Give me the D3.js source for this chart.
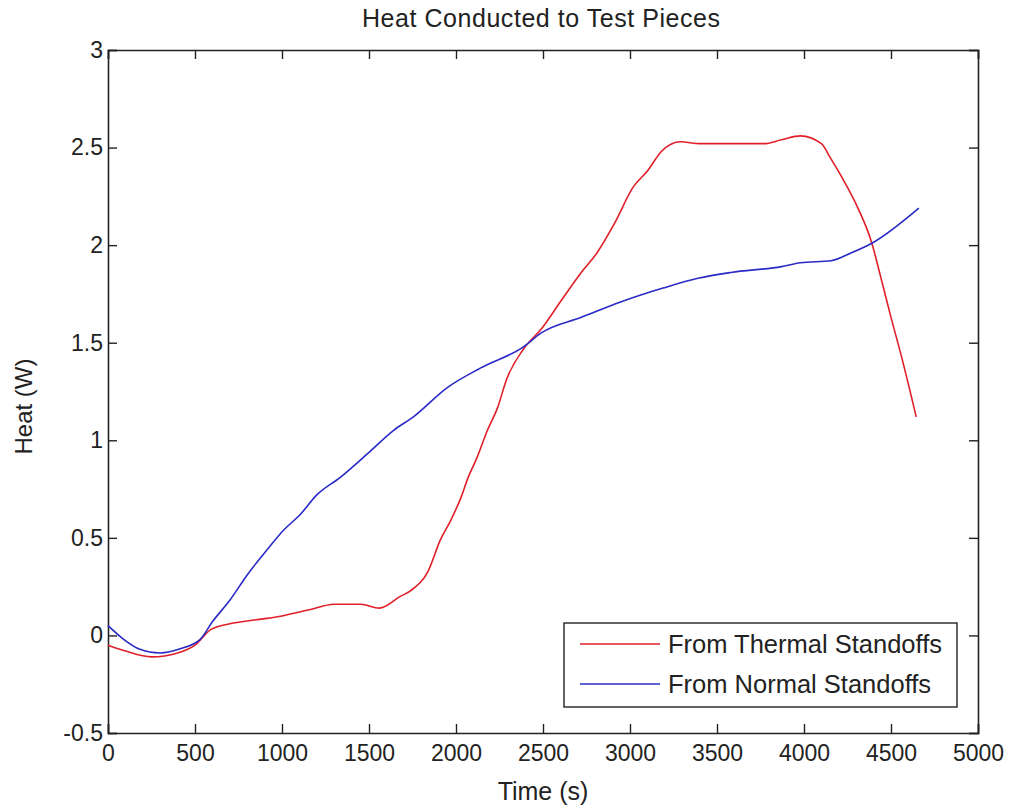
<!DOCTYPE html>
<html>
<head>
<meta charset="utf-8">
<script src="https://cdn.jsdelivr.net/npm/d3@7"></script>
<style>
    body { margin: 0; background: #fff; }
    text { font-family: "Liberation Sans", Arial, sans-serif; fill: #222; }
    .axis path, .axis line { stroke: #222; }
</style>
</head>
<body>
<div id="chart"></div>
<script>

// data
let xTicks = [0, 500, 1000, 1500, 2000, 2500, 3000, 3500, 4000, 4500, 5000];
let yTicks = [-0.5, 0, 0.5, 1, 1.5, 2, 2.5, 3];

let thermalTime = [0, 100, 250, 400, 500, 590, 700, 850, 1000, 1150, 1300, 1450, 1560, 1680, 1740, 1840, 1910, 1970, 2030, 2070, 2120, 2180, 2240, 2290, 2390, 2490, 2600, 2720, 2810, 2910, 3020, 3100, 3180, 3290, 3400, 3550, 3770, 3870, 3980, 4100, 4150, 4210, 4310, 4390, 4440, 4500, 4560, 4645];
let thermalHeat = [-0.05, -0.08, -0.11, -0.09, -0.05, 0.03, 0.06, 0.08, 0.10, 0.13, 0.16, 0.16, 0.14, 0.20, 0.23, 0.33, 0.49, 0.59, 0.71, 0.81, 0.91, 1.05, 1.17, 1.31, 1.47, 1.57, 1.71, 1.86, 1.96, 2.11, 2.30, 2.38, 2.48, 2.53, 2.52, 2.52, 2.52, 2.54, 2.56, 2.52, 2.45, 2.36, 2.19, 2.01, 1.84, 1.63, 1.43, 1.12];

let normalTime = [0, 90, 180, 300, 410, 530, 600, 700, 800, 915, 1010, 1105, 1200, 1335, 1490, 1640, 1755, 1950, 2140, 2390, 2490, 2720, 2950, 3190, 3390, 3580, 3870, 3980, 4155, 4270, 4390, 4660];
let normalHeat = [0.05, -0.02, -0.07, -0.09, -0.07, -0.02, 0.07, 0.18, 0.31, 0.44, 0.54, 0.62, 0.72, 0.81, 0.93, 1.05, 1.12, 1.27, 1.37, 1.48, 1.55, 1.63, 1.71, 1.78, 1.83, 1.86, 1.89, 1.91, 1.92, 1.96, 2.01, 2.19];

let seriesNames = ["From Thermal Standoffs", "From Normal Standoffs"];
let seriesColors = ["#e01f28", "#2a2ac6"];

let series = [
    thermalTime.map((t, i) => ({time: t, heat: thermalHeat[i]})),
    normalTime.map((t, i) => ({time: t, heat: normalHeat[i]}))
];

let margin = {top: 50, right: 43, bottom: 73, left: 108};
let width = 1021 - margin.left - margin.right;
let height = 806 - margin.top - margin.bottom;

let svg = d3.select("#chart").append("svg")
    .attr("width", 1021)
    .attr("height", 806)
    .append("g")
    .attr("transform", "translate(" + margin.left + "," + margin.top + ")");

// scales
let x = d3.scaleLinear().domain([0, 5000]).range([0, width]);
let y = d3.scaleLinear().domain([-0.5, 3]).range([height, 0]);

// axes, ticks pointing inward on all four sides (plain hyphen for minus)
let tickLen = 9;
svg.append("g")
    .attr("class", "axis")
    .attr("transform", "translate(0," + height + ")")
    .call(d3.axisBottom(x).tickValues(xTicks).tickSize(-tickLen).tickPadding(12).tickFormat(d => String(d)))
    .call(g => g.selectAll("text").attr("font-size", 23));
svg.append("g")
    .attr("class", "axis")
    .call(d3.axisTop(x).tickValues(xTicks).tickSize(-tickLen).tickFormat(""));
svg.append("g")
    .attr("class", "axis")
    .call(d3.axisLeft(y).tickValues(yTicks).tickSize(-tickLen).tickPadding(5).tickFormat(d => String(d)))
    .call(g => g.selectAll("text").attr("font-size", 23));
svg.append("g")
    .attr("class", "axis")
    .attr("transform", "translate(" + width + ",0)")
    .call(d3.axisRight(y).tickValues(yTicks).tickSize(-tickLen).tickFormat(""));

svg.selectAll(".axis path").attr("stroke-width", 1.6);
svg.selectAll(".axis line").attr("stroke-width", 1.4);

// lines
let line = d3.line()
    .curve(d3.curveMonotoneX)
    .x(d => x(d.time))
    .y(d => y(d.heat));

svg.selectAll(".series")
    .data(series)
    .enter()
    .append("path")
    .attr("class", "series")
    .attr("d", line)
    .attr("fill", "none")
    .attr("stroke", (d, i) => seriesColors[i])
    .attr("stroke-width", 1.6);

// title and labels
svg.append("text")
    .attr("x", width / 2 - 2)
    .attr("y", -23)
    .attr("text-anchor", "middle")
    .attr("font-size", 25)
    .attr("textLength", 358)
    .text("Heat Conducted to Test Pieces");

svg.append("text")
    .attr("x", width / 2)
    .attr("y", height + 67)
    .attr("text-anchor", "middle")
    .attr("font-size", 25)
    .text("Time (s)");

svg.append("text")
    .attr("transform", "translate(-76," + (height / 2 + 15) + ") rotate(-90)")
    .attr("text-anchor", "middle")
    .attr("font-size", 24)
    .text("Heat (W)");

// legend
let legend = svg.append("g")
    .attr("transform", "translate(" + (564 - margin.left) + "," + (623 - margin.top) + ")");

legend.append("rect")
    .attr("width", 393)
    .attr("height", 84)
    .attr("fill", "#fff")
    .attr("stroke", "#222")
    .attr("stroke-width", 1.4);

let rows = legend.selectAll(".legend-row")
    .data(seriesNames)
    .enter()
    .append("g")
    .attr("class", "legend-row")
    .attr("transform", (d, i) => "translate(0," + (21 + i * 40) + ")");

rows.append("line")
    .attr("x1", 16)
    .attr("x2", 96)
    .attr("stroke", (d, i) => seriesColors[i])
    .attr("stroke-width", 1.6);

rows.append("text")
    .attr("x", 104)
    .attr("dy", "0.35em")
    .attr("font-size", 25.5)
    .text(d => d);

</script>
</body>
</html>
